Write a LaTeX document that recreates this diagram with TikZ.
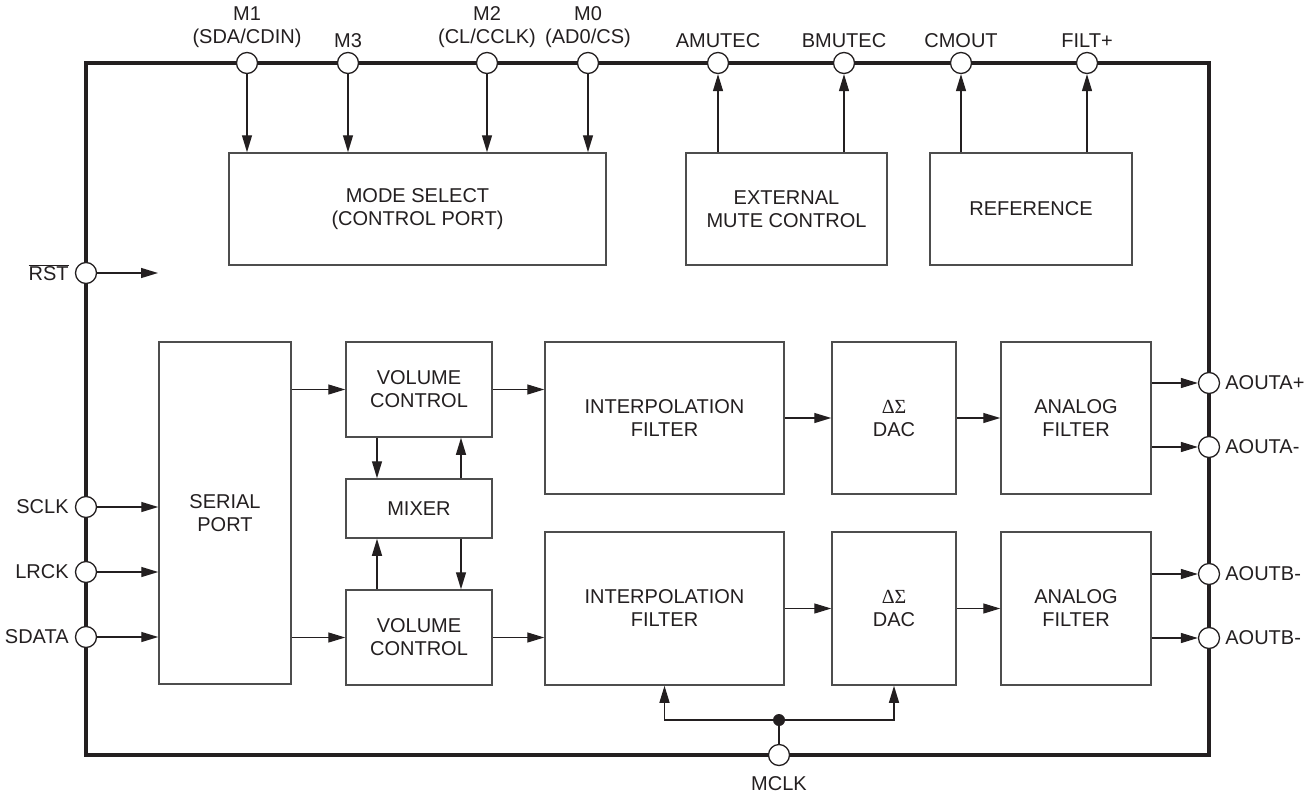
\documentclass[tikz,border=0pt]{standalone}
\usepackage{fontspec}
\setmainfont{Liberation Sans}
\newfontfamily\greekserif{Liberation Serif}
\usepackage{tikz}
\usetikzlibrary{positioning,arrows.meta}
\definecolor{chipline}{HTML}{231F20}
\definecolor{boxline}{HTML}{4D4D4D}
\definecolor{txtdark}{HTML}{231F20}

\begin{document}
\begin{tikzpicture}[x=1pt,y=-1pt,
  font=\fontsize{20}{23}\selectfont,
  blk/.style={draw=boxline,line width=1.5pt,fill=white,align=center,inner sep=0pt,text=txtdark},
  pinio/.style={circle,draw=chipline,line width=1.3pt,fill=white,minimum size=21pt,inner sep=0pt},
  lbl/.style={inner sep=2pt,align=center,text=txtdark},
  sig/.style={-{Triangle[length=17pt,width=10pt]},draw=chipline,line width=1.3pt},
  wire/.style={draw=chipline,line width=1.3pt},
]
\useasboundingbox (0,0) rectangle (1314,795);

% chip outline
\draw[draw=chipline,line width=3.3pt] (86,63) rectangle (1209,755);

% TOP: control blocks
\node[blk,minimum width=377pt,minimum height=112pt] (mode) at (417.5,209) {MODE SELECT\\(CONTROL PORT)};
\node[blk,minimum width=201pt,minimum height=112pt] (mute) at (786.5,209) {EXTERNAL\\MUTE CONTROL};
\node[blk,minimum width=202pt,minimum height=112pt] (ref) at (1031,209) {REFERENCE};

% signal path, channel A on top, channel B below
\node[blk,minimum width=132pt,minimum height=342pt] (serial) at (225,513) {SERIAL\\PORT};
\node[blk,minimum width=146pt,minimum height=95pt] (volA) at (419,389.5) {VOLUME\\CONTROL};
\node[blk,minimum width=146pt,minimum height=59pt] (mixer) at (419,508.5) {MIXER};
\node[blk,minimum width=146pt,minimum height=95pt] (volB) at (419,637.5) {VOLUME\\CONTROL};
\node[blk,minimum width=239pt,minimum height=152pt] (interpA) at (664.5,418) {INTERPOLATION\\FILTER};
\node[blk,minimum width=239pt,minimum height=153pt] (interpB) at (664.5,608.5) {INTERPOLATION\\FILTER};
\node[blk,minimum width=124pt,minimum height=152pt] (dacA) at (894,418) {{\greekserif ΔΣ}\\DAC};
\node[blk,minimum width=124pt,minimum height=153pt] (dacB) at (894,608.5) {{\greekserif ΔΣ}\\DAC};
\node[blk,minimum width=150pt,minimum height=152pt] (afA) at (1076,418) {ANALOG\\FILTER};
\node[blk,minimum width=150pt,minimum height=153pt] (afB) at (1076,608.5) {ANALOG\\FILTER};

% pins on the outline
\node[pinio,label={[lbl,label distance=2pt]above:M1\\(SDA/CDIN)}] (m1) at (247,63) {};
\node[pinio,label={[lbl,label distance=2pt]above:M3}] (m3) at (348,63) {};
\node[pinio,label={[lbl,label distance=2pt]above:M2\\(CL/CCLK)}] (m2) at (487,63) {};
\node[pinio,label={[lbl,label distance=2pt]above:M0\\(AD0/CS)}] (m0) at (588,63) {};
\node[pinio,label={[lbl,label distance=2pt]above:AMUTEC}] (amutec) at (718,63) {};
\node[pinio,label={[lbl,label distance=2pt]above:BMUTEC}] (bmutec) at (844,63) {};
\node[pinio,label={[lbl,label distance=2pt]above:CMOUT}] (cmout) at (961,63) {};
\node[pinio,label={[lbl,label distance=2pt]above:FILT+}] (filt) at (1087,63) {};

\node[pinio,label={[lbl,label distance=4pt]left:$\overline{\mbox{RST}}$}] (rst) at (86,273) {};
\node[pinio,label={[lbl,label distance=4pt]left:SCLK}] (sclk) at (86,507) {};
\node[pinio,label={[lbl,label distance=4pt]left:LRCK}] (lrck) at (86,572) {};
\node[pinio,label={[lbl,label distance=4pt]left:SDATA}] (sdata) at (86,637) {};

\node[pinio,label={[lbl,label distance=3pt]right:AOUTA+}] (aoutap) at (1209,383) {};
\node[pinio,label={[lbl,label distance=3pt]right:AOUTA-}] (aoutam) at (1209,447) {};
\node[pinio,label={[lbl,label distance=3pt]right:AOUTB-}] (aoutbp) at (1209,574) {};
\node[pinio,label={[lbl,label distance=3pt]right:AOUTB-}] (aoutbm) at (1209,638) {};

\node[pinio,label={[lbl,label distance=8pt]below:MCLK}] (mclk) at (779,755) {};
\node[circle,fill=chipline,inner sep=0pt,minimum size=12pt] (mdot) at (779,720) {};
\coordinate (rstend) at (158,273);

% mode pins into mode select
\foreach \p in {m1,m3,m2,m0}
  \draw[sig] (\p.south) -- (\p.south |- mode.north);
% outputs of mute control and reference
\foreach \p/\b in {amutec/mute,bmutec/mute,cmout/ref,filt/ref}
  \draw[sig] (\b.north -| \p.south) -- (\p.south);

% left inputs
\draw[sig] (rst.east) -- (rstend);
\foreach \p in {sclk,lrck,sdata}
  \draw[sig] (\p.east) -- (\p.east -| serial.west);

% serial port to volume, volume to mixer and back
\draw[sig] (serial.east |- volA.west) -- (volA.west);
\draw[sig] (serial.east |- volB.west) -- (volB.west);
\draw[sig] ([xshift=-42pt]volA.south) -- ([xshift=-42pt]mixer.north);
\draw[sig] ([xshift=42pt]mixer.north) -- ([xshift=42pt]volA.south);
\draw[sig] ([xshift=-42pt]volB.north) -- ([xshift=-42pt]mixer.south);
\draw[sig] ([xshift=42pt]mixer.south) -- ([xshift=42pt]volB.north);

% channel chains
\draw[sig] (volA.east) -- (volA.east -| interpA.west);
\draw[sig] (volB.east) -- (volB.east -| interpB.west);
\draw[sig] (interpA.east) -- (dacA.west);
\draw[sig] (interpB.east) -- (dacB.west);
\draw[sig] (dacA.east) -- (afA.west);
\draw[sig] (dacB.east) -- (afB.west);

% analog outputs
\draw[sig] (afA.east |- aoutap.west) -- (aoutap.west);
\draw[sig] (afA.east |- aoutam.west) -- (aoutam.west);
\draw[sig] (afB.east |- aoutbp.west) -- (aoutbp.west);
\draw[sig] (afB.east |- aoutbm.west) -- (aoutbm.west);

% master clock fan-out
\draw[wire] (mclk.north) -- (mdot);
\draw[sig] (mdot) -| (interpB.south);
\draw[sig] (mdot) -| (dacB.south);
\end{tikzpicture}
\end{document}
